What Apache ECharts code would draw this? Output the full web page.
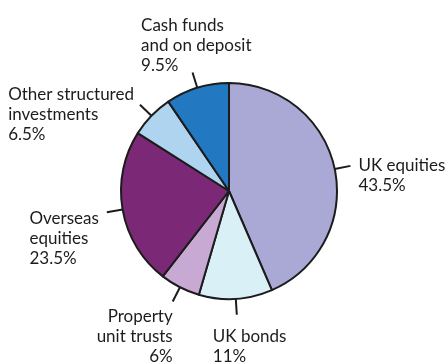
<!DOCTYPE html>
<html>
<head>
<meta charset="utf-8">
<script src="https://cdn.jsdelivr.net/npm/echarts@6/dist/echarts.min.js"></script>
<style>
  html, body { margin: 0; padding: 0; background: #ffffff; }
  #chart { width: 445px; height: 363px; }
</style>
</head>
<body>
<div id="chart"></div>
<script>
// Portfolio allocation, clockwise from twelve o'clock
const categories = [
  'UK equities',
  'UK bonds',
  'Property\nunit trusts',
  'Overseas\nequities',
  'Other structured\ninvestments',
  'Cash funds\nand on deposit'
];
const shares = [43.5, 11, 6, 23.5, 6.5, 9.5];
const pctLabels = ['43.5%', '11%', '6%', '23.5%', '6.5%', '9.5%'];

const sliceColors = ['#aaa8d5', '#d9f0f7', '#c7a9d3', '#7b2876', '#aed4f0', '#2279c1'];
// line alignment inside each label block
const lineAlign = ['left', 'left', 'right', 'left', 'left', 'left'];
// nudges of each label block away from the end of its leader line
const labelShift = [[3, 10], [-29, 32], [5, 35], [-3, 26], [-1, 10], [64, -27]];

const ink = '#1c1c1c';
const textFont = 'Lato';
const textSize = 17;

const chart = echarts.init(document.getElementById('chart'), null, { renderer: 'canvas' });

chart.setOption({
  backgroundColor: '#ffffff',
  animation: false,
  series: [{
    type: 'pie',
    center: [229, 191],
    radius: 108,
    startAngle: 90,
    clockwise: true,
    avoidLabelOverlap: false,
    itemStyle: { borderColor: ink, borderWidth: 2 },
    label: {
      show: true,
      position: 'outside',
      fontFamily: textFont,
      fontSize: textSize,
      color: ink,
      lineHeight: 20,
      overflow: 'none',
      edgeDistance: 0,
      bleedMargin: 0
    },
    labelLine: {
      show: true,
      length: 16,
      length2: 0,
      lineStyle: { color: ink, width: 2 }
    },
    labelLayout: function (params) {
      const s = labelShift[params.dataIndex];
      return { dx: s[0], dy: s[1] };
    },
    data: categories.map(function (name, i) {
      const lines = name.split('\n').concat([pctLabels[i]]);
      return {
        name: name,
        value: shares[i],
        itemStyle: { color: sliceColors[i] },
        label: {
          formatter: lines.map(function (t) { return '{' + lineAlign[i] + '|' + t + '}'; }).join('\n'),
          rich: {
            left: { align: 'left', fontFamily: textFont, fontSize: textSize, lineHeight: 20, color: ink },
            right: { align: 'right', fontFamily: textFont, fontSize: textSize, lineHeight: 20, color: ink }
          }
        }
      };
    })
  }]
});
</script>
</body>
</html>
